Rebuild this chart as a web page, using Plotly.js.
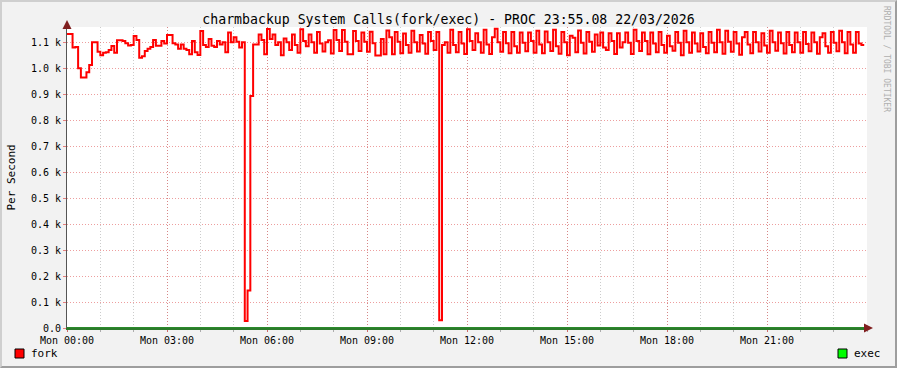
<!DOCTYPE html>
<html>
<head>
<meta charset="utf-8">
<script src="https://cdn.plot.ly/plotly-3.0.1.min.js"></script>
<style>
  html, body { margin: 0; padding: 0; background: #F2F2F2; }
  #wrap { position: relative; width: 897px; height: 368px; }
  #chart { width: 897px; height: 368px; }
  #frame { position: absolute; left: 0; top: 0; width: 893px; height: 364px;
           border-top: 2px solid #CFCFCF; border-left: 2px solid #CFCFCF;
           border-right: 2px solid #9E9E9E; border-bottom: 2px solid #9E9E9E;
           pointer-events: none; }
</style>
</head>
<body>
<div id="wrap"><div id="chart"></div><div id="frame"></div></div>
<script>
// ---- data (5-minute samples, per second) ----
const stepMinutes = 5;
const forkValues = [
  1132,1132,1080,1082,1000,965,965,985,1013,1100,
  1100,1064,1050,1060,1062,1070,1086,1060,1108,1108,
  1105,1096,1088,1090,1124,1109,1041,1046,1067,1075,
  1082,1109,1087,1087,1105,1095,1128,1128,1096,1092,
  1075,1092,1075,1070,1054,1105,1062,1051,1144,1090,
  1082,1113,1087,1082,1105,1092,1100,1062,1138,1100,
  1120,1102,1080,1100,27,144,893,1092,1092,1130,
  1109,1054,1151,1113,1130,1090,1100,1050,1115,1100,
  1070,1130,1090,1060,1150,1105,1085,1130,1100,1060,
  1140,1095,1065,1100,1108,1057,1147,1109,1067,1147,
  1102,1054,1054,1144,1105,1067,1138,1102,1064,1141,
  1096,1049,1049,1113,1054,1146,1120,1054,1140,1102,
  1058,1134,1090,1060,1145,1100,1065,1128,1095,1056,
  1140,1105,1070,1140,30,1090,1100,1060,1148,1090,
  1062,1140,1095,1055,1150,1105,1070,1135,1100,1060,
  1148,1092,1055,1120,1152,1100,1064,1140,1096,1058,
  1140,1085,1060,1138,1098,1066,1138,1105,1060,1145,
  1092,1058,1142,1100,1067,1148,1085,1056,1140,1100,
  1050,1125,1118,1062,1146,1098,1057,1140,1102,1064,
  1130,1088,1138,1080,1070,1135,1105,1055,1135,1080,
  1100,1138,1098,1055,1148,1105,1067,1138,1105,1054,
  1138,1095,1062,1140,1090,1060,1125,1085,1068,1140,
  1098,1050,1145,1100,1060,1138,1095,1065,1135,1082,
  1058,1140,1098,1062,1148,1100,1056,1145,1102,1064,
  1140,1095,1052,1120,1140,1092,1058,1140,1100,1065,
  1135,1088,1060,1145,1100,1068,1138,1096,1057,1140,
  1090,1062,1138,1100,1060,1140,1094,1066,1138,1100,
  1056,1120,1135,1085,1060,1140,1098,1066,1145,1100,
  1058,1140,1092,1060,1140,1095,1090,1090
];
const execValues = new Array(forkValues.length).fill(0);
const sampleMinutes = forkValues.map((_, i) => i * stepMinutes);

const xTickVals = [0, 180, 360, 540, 720, 900, 1080, 1260];
const xTickText = ["Mon 00:00","Mon 03:00","Mon 06:00","Mon 09:00","Mon 12:00","Mon 15:00","Mon 18:00","Mon 21:00"];
const yTickVals = [0,100,200,300,400,500,600,700,800,900,1000,1100];
const yTickText = ["0.0","0.1 k","0.2 k","0.3 k","0.4 k","0.5 k","0.6 k","0.7 k","0.8 k","0.9 k","1.0 k","1.1 k"];

const titleText = "charmbackup System Calls(fork/exec) - PROC 23:55.08 22/03/2026";
const seriesNames = ["fork", "exec"];
const seriesColors = ["#FF0000", "#00FF00"];

// ---- geometry helpers (pixel -> paper) ----
const W = 897, H = 368, L = 67, R = 867, T = 27, B = 328;
const px = x => (x - L) / (R - L);
const py = y => (B - y) / (B - T);
const mono = "DejaVu Sans Mono, monospace";

const traces = [
  { x: sampleMinutes, y: execValues, name: seriesNames[1], type: "scatter", mode: "lines",
    line: { color: "#2a8a2a", width: 2, shape: "hv" }, hoverinfo: "skip" },
  { x: sampleMinutes, y: forkValues, name: seriesNames[0], type: "scatter", mode: "lines",
    line: { color: seriesColors[0], width: 2, shape: "hv" }, hoverinfo: "skip" }
];

const layout = {
  width: W, height: H,
  margin: { l: L, r: W - R, t: T, b: H - B, pad: 0 },
  paper_bgcolor: "#F2F2F2",
  plot_bgcolor: "#FFFFFF",
  showlegend: false,
  font: { family: mono, size: 10, color: "#000000" },
  title: { text: titleText, font: { family: mono, size: 13.2, color: "#000" },
           x: 0.5, xanchor: "center", xref: "container", y: 1 - 19 / H, yanchor: "middle" },
  xaxis: {
    range: [0, 1440], fixedrange: true, zeroline: false,
    tickmode: "array", tickvals: xTickVals, ticktext: xTickText,
    showgrid: true, gridcolor: "rgba(222,79,79,0.55)", griddash: "1px,2px", gridwidth: 1,
    ticks: "outside", ticklen: 2, tickcolor: "rgba(222,79,79,0.7)",
    minor: { dtick: 60, tick0: 0, showgrid: true, gridcolor: "rgba(143,143,143,0.45)",
             griddash: "1px,2px", ticks: "outside", ticklen: 2, tickcolor: "rgba(143,143,143,0.7)" },
    showline: true, linecolor: "#2B7A2B", linewidth: 1.5, layer: "below traces",
    tickfont: { family: mono, size: 10, color: "#000" }
  },
  yaxis: {
    range: [0, 1159], fixedrange: true, zeroline: false,
    tickmode: "array", tickvals: yTickVals, ticktext: yTickText,
    showgrid: true, gridcolor: "rgba(222,79,79,0.55)", griddash: "1px,2px", gridwidth: 1,
    ticks: "outside", ticklen: 3, tickcolor: "rgba(222,79,79,0.7)",
    showline: true, linecolor: "#555555", linewidth: 1, layer: "below traces",
    tickfont: { family: mono, size: 10, color: "#000" },
    title: { text: "Per Second", font: { family: mono, size: 11, color: "#000" }, standoff: 13 }
  },
  shapes: [
    { type: "rect", xref: "paper", yref: "paper", x0: px(15), x1: px(24), y0: py(358), y1: py(349),
      fillcolor: seriesColors[0], line: { color: "#000", width: 1 } },
    { type: "rect", xref: "paper", yref: "paper", x0: px(838), x1: px(847), y0: py(358), y1: py(349),
      fillcolor: seriesColors[1], line: { color: "#000", width: 1 } }
  ],
  annotations: [
    { xref: "paper", yref: "paper", x: px(29), y: py(353.5), xanchor: "left", yanchor: "middle",
      text: seriesNames[0], showarrow: false, font: { family: mono, size: 11, color: "#000" } },
    { xref: "paper", yref: "paper", x: px(852), y: py(353.5), xanchor: "left", yanchor: "middle",
      text: seriesNames[1], showarrow: false, font: { family: mono, size: 11, color: "#000" } },
    { xref: "paper", yref: "paper", x: px(887), y: py(59), xanchor: "center", yanchor: "middle",
      text: "RRDTOOL / TOBI OETIKER", textangle: 90, showarrow: false,
      font: { family: mono, size: 8, color: "#AFAFAF" } },
    // axis arrows
    { xref: "paper", yref: "paper", x: 0, y: py(20), text: "", showarrow: true,
      ax: 0, ay: 8, arrowhead: 2, arrowsize: 1.2, arrowwidth: 1.5, arrowcolor: "#801F1F" },
    { xref: "paper", yref: "paper", x: px(873), y: 0, text: "", showarrow: true,
      ax: -8, ay: 0, arrowhead: 2, arrowsize: 1.2, arrowwidth: 1.5, arrowcolor: "#801F1F" }
  ]
};

Plotly.newPlot("chart", traces, layout, { staticPlot: true, displayModeBar: false });
</script>
</body>
</html>
